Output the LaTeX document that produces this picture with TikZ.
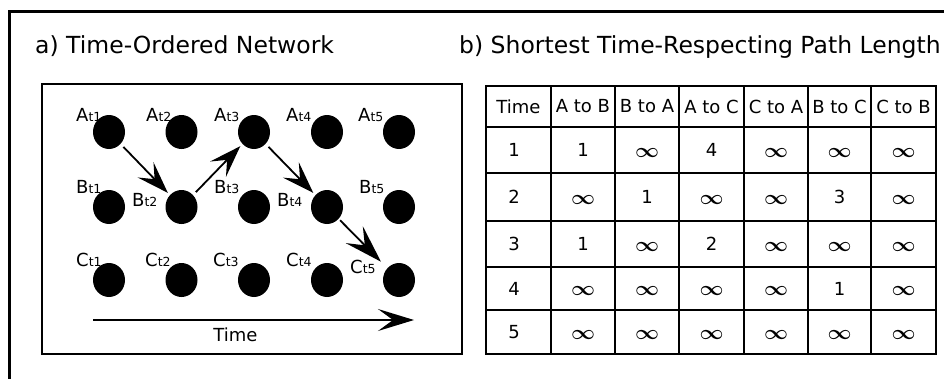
\documentclass[tikz,border=0pt]{standalone}
\usepackage{graphicx}
\usepackage{bm}
\usepackage{fontspec}
\setmainfont{DejaVu Sans}
\usetikzlibrary{arrows.meta,shapes.geometric}

% node label with a small "t<n>" index set beside the letter
\newcommand\evlabel[2]{#1\raisebox{-0.8pt}{\fontsize{12.5}{13}\selectfont t#2}}
% flat infinity sign used in the table
\newcommand\infsym{\resizebox{24pt}{9pt}{$\bm\infty$}}

\begin{document}
\begin{tikzpicture}[x=1pt,y=-1pt,
  dot/.style={ellipse, fill=black, minimum width=32pt, minimum height=34pt, inner sep=0pt},
  lbl/.style={anchor=base west, inner sep=0pt, font=\fontsize{18}{18}\selectfont},
  title/.style={anchor=base west, inner sep=0pt, font=\fontsize{23.5}{24}\selectfont},
  link/.style={line width=1.8pt, -{Stealth[length=32pt,width=22pt,inset=13pt]},
               shorten <=4pt, shorten >=3pt},
  biglink/.style={line width=1.8pt, -{Stealth[length=38pt,width=24pt,inset=15pt]},
               shorten <=2pt, shorten >=9pt},
  frame/.style={line width=3pt},
  grid/.style={line width=2.6pt},
  cell/.style={inner sep=0pt, font=\fontsize{18}{18}\selectfont},
  inf/.style={yshift=-2.5pt}
]
\useasboundingbox (0,0) rectangle (944,378);

% outer frame (open to the right and bottom)
\draw[frame] (9,400) -- (9,11) -- (960,11);

% titles
\node[title] (ta) at (35,53) {a) Time-Ordered Network};
\node[title] (tb) at (459,53) {b) Shortest Time-Respecting Path Length};

% ---------- a) time-ordered network ----------
\draw[line width=2.5pt] (42,84) rectangle (462,354);

\foreach \n/\x in {1/109,2/181.5,3/254,4/327,5/399}{
  \node[dot] (a\n) at (\x,132) {};
  \node[dot] (b\n) at (\x,207) {};
  \node[dot] (c\n) at (\x,280) {};
}

% event labels
\foreach \n/\x in {1/76,2/146,3/214,4/286,5/358}
  \node[lbl] (la\n) at (\x,121) {\evlabel{A}{\n}};
\foreach \n/\x/\y in {1/76/193,2/132/206,3/214/193,4/277/206,5/359/193}
  \node[lbl] (lb\n) at (\x,\y) {\evlabel{B}{\n}};
\foreach \n/\x/\y in {1/76/266,2/145/266,3/213/266,4/286/266,5/350/273}
  \node[lbl] (lc\n) at (\x,\y) {\evlabel{C}{\n}};

% time-respecting path
\draw[link] (a1) -- (b2);
\draw[link] (b2) -- (a3);
\draw[link] (a3) -- (b4);
\draw[biglink] (b4) -- (c5);

% time axis
\coordinate (ts) at (93,320);
\coordinate (te) at (414,320);
\draw[line width=2pt, -{Stealth[length=36pt,width=22pt,inset=15pt]}] (ts) -- (te);
\node[anchor=base, inner sep=0pt, font=\fontsize{18}{18}\selectfont] (tlabel) at (235.5,341) {Time};

% ---------- b) path length table ----------
\draw[grid] (486,86) rectangle (936,354);
\foreach \x in {551,615,679,744,808,871}
  \draw[grid] (\x,86) -- (\x,354);
\foreach \y in {127,173,221,267,310}
  \draw[grid] (486,\y) -- (936,\y);

% header row
\foreach \t [count=\c] in {Time,A to B,B to A,A to C,C to A,B to C,C to B}{
  \pgfmathsetmacro\cx{{518.5,583,647,711.5,776,839.5,903.5}[\c-1]}
  \node[cell] (h\c) at (\cx,106.5) {\t};
}

% body rows: i marks an unreachable pair
\foreach \r/\ry/\vals in {1/150/{1,1,i,4,i,i,i},
                          2/197/{2,i,1,i,i,3,i},
                          3/244/{3,1,i,2,i,i,i},
                          4/288.5/{4,i,i,i,i,1,i},
                          5/332/{5,i,i,i,i,i,i}}{
  \foreach \v [count=\c] in \vals{
    \pgfmathsetmacro\cx{{514,583,647,711.5,776,839.5,903.5}[\c-1]}
    \if i\v
      \node[cell,inf] (v\r-\c) at (\cx,\ry) {\infsym};
    \else
      \node[cell] (v\r-\c) at (\cx,\ry) {\v};
    \fi
  }
}
\end{tikzpicture}
\end{document}
